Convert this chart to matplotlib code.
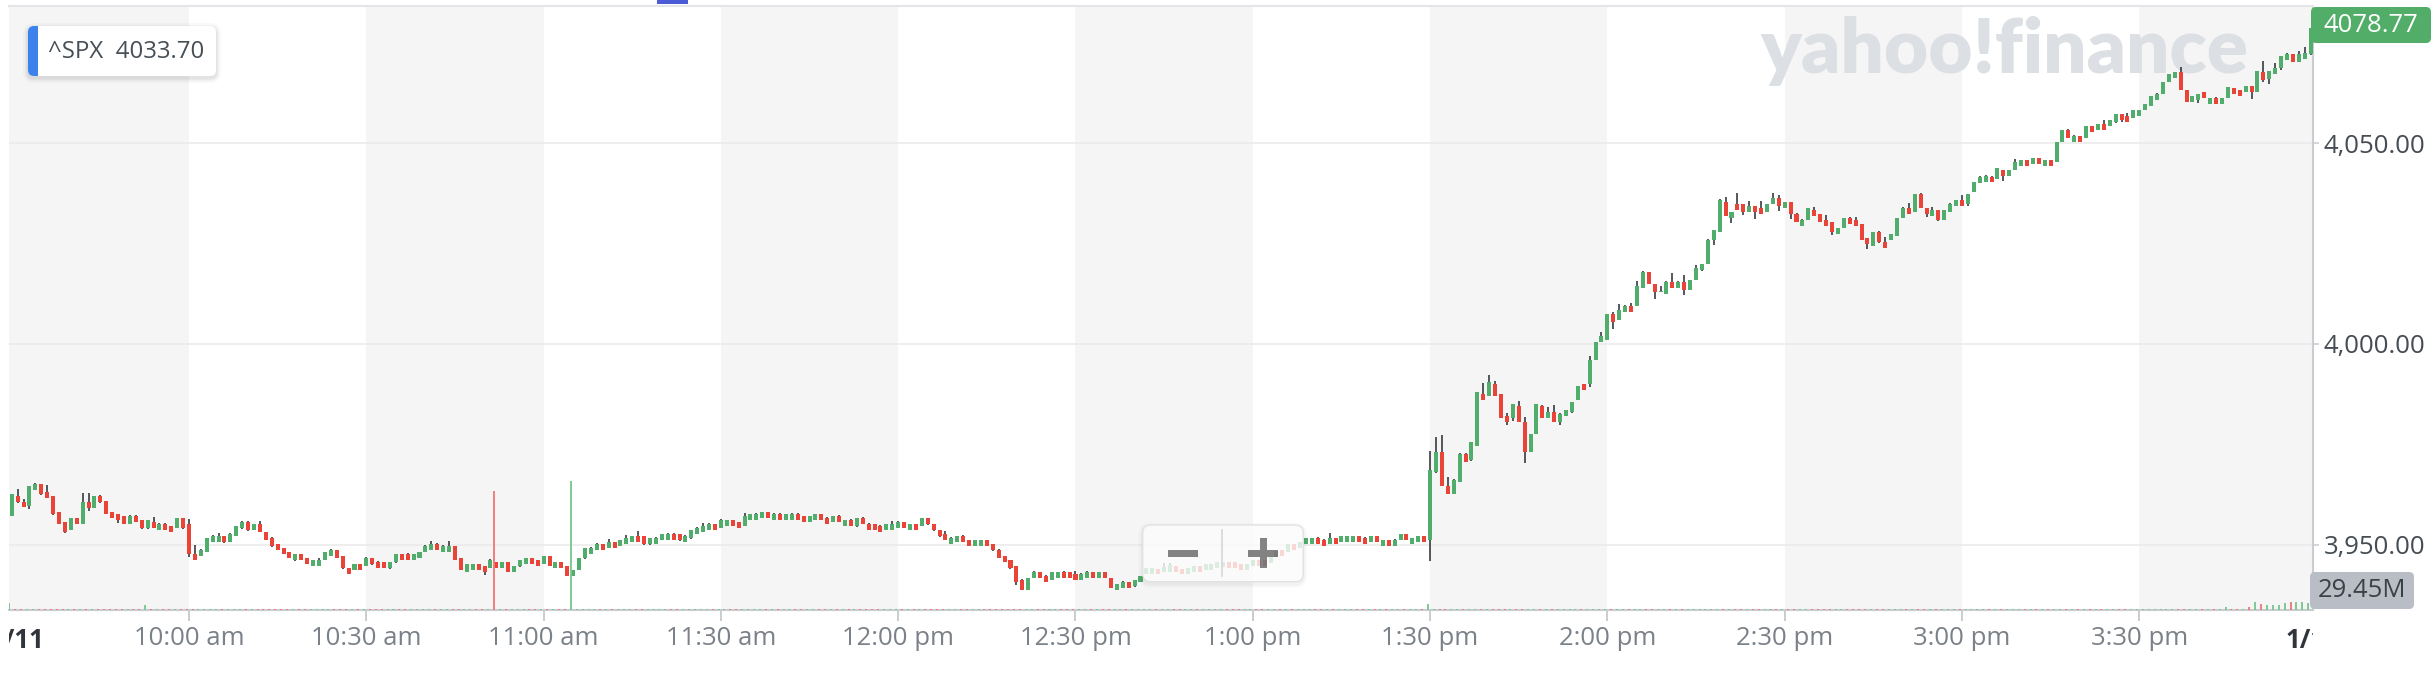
import matplotlib
matplotlib.use("Agg")
import matplotlib.pyplot as plt
from matplotlib.patches import FancyBboxPatch, Rectangle, Polygon
from matplotlib.lines import Line2D
from matplotlib.transforms import IdentityTransform, Bbox
from matplotlib.ticker import FuncFormatter
import numpy as np

# ---------------- data (1-minute candles, 9:30 = index 0) ----------------
opens = [
3957.2, 3962.1, 3960.6, 3959.7, 3963.7, 3965.1, 3963.1, 3962.1, 3958.1, 3955.6,
3953.7, 3956.6, 3955.2, 3960.6, 3959.2, 3962.1, 3961.0, 3958.1, 3957.7, 3957.1,
3955.2, 3957.1, 3956.1, 3954.2, 3955.6, 3953.7, 3955.2, 3954.7, 3954.2, 3956.6,
3955.2, 3947.7, 3947.3, 3948.3, 3950.7, 3950.7, 3952.2, 3950.7, 3952.2, 3954.2,
3955.6, 3953.7, 3955.1, 3953.2, 3951.7, 3950.2, 3949.3, 3948.2, 3946.3, 3947.7,
3946.8, 3944.8, 3944.8, 3946.3, 3947.3, 3948.7, 3947.3, 3944.3, 3943.8, 3945.3,
3944.8, 3946.8, 3945.8, 3945.8, 3944.3, 3945.8, 3947.7, 3947.7, 3946.3, 3946.8,
3948.2, 3948.7, 3950.2, 3948.2, 3948.2, 3949.7, 3946.7, 3943.3, 3943.7, 3945.2,
3944.7, 3944.2, 3945.7, 3944.2, 3945.7, 3943.2, 3944.7, 3945.2, 3946.7, 3946.2,
3945.2, 3947.2, 3944.2, 3945.7, 3944.7, 3942.2, 3943.7, 3946.7, 3947.7, 3948.7,
3950.2, 3949.2, 3950.7, 3949.7, 3950.2, 3950.7, 3952.2, 3952.2, 3950.2, 3950.2,
3951.2, 3951.2, 3952.7, 3952.7, 3950.7, 3951.7, 3952.7, 3953.2, 3953.7, 3955.1,
3954.2, 3954.7, 3956.1, 3955.6, 3954.7, 3956.1, 3956.1, 3956.6, 3958.1, 3956.1,
3957.6, 3956.1, 3956.2, 3957.6, 3957.1, 3955.6, 3956.2, 3957.6, 3956.6, 3955.6,
3957.1, 3954.7, 3956.1, 3954.7, 3956.6, 3955.1, 3955.1, 3954.7, 3953.7, 3953.7,
3954.2, 3955.6, 3953.7, 3955.1, 3954.7, 3956.6, 3955.1, 3953.7, 3952.7, 3950.2,
3950.7, 3952.2, 3951.2, 3949.8, 3949.8, 3951.2, 3950.2, 3948.7, 3947.2, 3946.2,
3944.7, 3941.2, 3938.8, 3941.7, 3943.2, 3942.2, 3941.2, 3941.7, 3943.2, 3943.2,
3942.7, 3941.2, 3941.7, 3943.2, 3941.7, 3943.2, 3941.7, 3938.8, 3939.3, 3940.7,
3939.8, 3940.8, 3942.6, 3942.8, 3943.9, 3943.2, 3943.2, 3944.6, 3944.0, 3942.8,
3943.3, 3944.6, 3943.6, 3943.8, 3944.1, 3944.4, 3945.6, 3945.6, 3945.1, 3943.8,
3944.6, 3946.1, 3946.1, 3945.4, 3946.9, 3948.8, 3948.2, 3950.1, 3949.1, 3950.2,
3950.2, 3951.7, 3951.2, 3950.2, 3951.7, 3950.7, 3950.7, 3950.7, 3952.2, 3951.7,
3950.7, 3952.2, 3949.8, 3951.2, 3949.8, 3951.2, 3952.7, 3950.2, 3950.7, 3952.2,
3951.2, 3968.1, 3973.1, 3964.6, 3962.6, 3965.6, 3972.6, 3971.1, 3974.6, 3987.5,
3987.0, 3990.0, 3987.5, 3982.1, 3981.6, 3984.6, 3980.6, 3973.1, 3977.6, 3984.6,
3981.6, 3983.1, 3980.6, 3982.0, 3983.0, 3986.0, 3990.0, 3990.0, 3995.9, 4000.4,
4000.9, 4007.4, 4005.9, 4007.9, 4009.4, 4009.4, 4013.9, 4017.9, 4014.9, 4012.9,
4012.4, 4015.4, 4013.9, 4015.4, 4013.4, 4015.9, 4018.4, 4019.9, 4025.8, 4027.8,
4035.3, 4031.3, 4034.8, 4034.8, 4032.8, 4034.3, 4033.8, 4032.8, 4034.8, 4036.3,
4033.8, 4035.3, 4032.3, 4029.3, 4030.8, 4033.3, 4032.3, 4030.8, 4030.3, 4027.3,
4028.8, 4031.3, 4030.8, 4029.8, 4026.3, 4024.3, 4027.8, 4025.3, 4025.8, 4026.8,
4031.3, 4033.8, 4032.8, 4037.3, 4033.8, 4031.8, 4033.3, 4030.8, 4032.8, 4034.3,
4035.8, 4034.8, 4037.8, 4040.0, 4040.4, 4041.7, 4041.0, 4043.3, 4041.9, 4043.3,
4044.3, 4045.8, 4044.8, 4046.3, 4044.3, 4045.8, 4045.3, 4050.2, 4053.2, 4050.2,
4051.7, 4051.2, 4054.2, 4053.2, 4054.7, 4054.2, 4055.2, 4057.2, 4056.7, 4056.2,
4056.7, 4058.2, 4059.2, 4060.7, 4062.2, 4065.2, 4066.2, 4067.7, 4063.2, 4060.2,
4060.7, 4062.7, 4059.7, 4061.2, 4059.7, 4061.2, 4063.7, 4063.2, 4062.7, 4064.2,
4062.7, 4067.7, 4065.9, 4067.2, 4068.7, 4070.7, 4072.2, 4070.2, 4070.9, 4072.2,
]

highs = [
3962.6, 3963.8, 3961.3, 3964.6, 3965.3, 3965.1, 3964.9, 3962.1, 3958.1, 3955.6,
3956.6, 3956.6, 3962.8, 3962.8, 3962.1, 3962.4, 3961.0, 3958.1, 3957.7, 3957.1,
3957.3, 3957.3, 3956.1, 3956.1, 3956.8, 3955.5, 3955.5, 3954.7, 3956.6, 3956.6,
3956.4, 3949.9, 3948.9, 3951.7, 3952.3, 3952.8, 3952.2, 3952.9, 3954.7, 3955.9,
3955.9, 3955.1, 3955.9, 3953.2, 3951.9, 3950.2, 3949.3, 3948.2, 3947.7, 3947.7,
3946.8, 3946.3, 3946.8, 3948.2, 3948.9, 3948.7, 3947.3, 3944.3, 3945.3, 3945.3,
3946.9, 3946.8, 3946.0, 3945.8, 3945.8, 3947.7, 3947.7, 3947.9, 3947.7, 3948.2,
3949.9, 3950.9, 3950.4, 3949.9, 3950.9, 3949.7, 3946.7, 3945.2, 3945.2, 3945.2,
3944.7, 3946.4, 3945.7, 3945.7, 3945.7, 3944.7, 3946.2, 3946.7, 3946.7, 3946.2,
3947.2, 3947.2, 3945.7, 3945.7, 3944.7, 3943.7, 3946.7, 3949.2, 3949.4, 3950.4,
3950.2, 3951.4, 3950.7, 3951.2, 3952.4, 3952.2, 3953.4, 3952.2, 3951.7, 3951.9,
3952.7, 3952.9, 3952.9, 3952.7, 3952.4, 3953.7, 3954.4, 3955.4, 3955.4, 3955.1,
3956.4, 3956.1, 3956.1, 3955.6, 3957.9, 3957.6, 3957.9, 3958.1, 3958.1, 3957.9,
3957.9, 3957.6, 3957.9, 3957.9, 3957.1, 3957.1, 3957.6, 3957.6, 3956.9, 3957.1,
3957.4, 3956.1, 3956.4, 3956.6, 3956.9, 3955.4, 3955.1, 3954.9, 3955.1, 3955.9,
3955.9, 3955.6, 3955.1, 3955.1, 3956.6, 3956.6, 3955.1, 3953.7, 3953.4, 3951.9,
3952.2, 3952.4, 3951.2, 3951.2, 3951.2, 3951.2, 3950.2, 3948.9, 3947.2, 3946.2,
3944.7, 3941.4, 3941.7, 3943.4, 3943.2, 3942.4, 3943.2, 3943.2, 3943.4, 3943.2,
3943.4, 3942.9, 3943.4, 3943.2, 3943.2, 3943.2, 3941.7, 3940.2, 3940.9, 3940.7,
3941.2, 3942.2, 3944.3, 3944.1, 3943.9, 3945.4, 3945.4, 3944.6, 3944.0, 3944.3,
3944.8, 3944.6, 3945.1, 3945.3, 3945.6, 3945.6, 3945.6, 3945.6, 3945.1, 3945.3,
3946.1, 3946.1, 3946.1, 3946.9, 3948.4, 3948.8, 3950.2, 3950.1, 3950.6, 3951.7,
3951.7, 3951.9, 3951.4, 3952.9, 3951.7, 3952.2, 3952.2, 3952.2, 3952.2, 3951.9,
3952.2, 3952.2, 3951.2, 3951.2, 3951.4, 3952.7, 3952.7, 3951.7, 3952.2, 3952.2,
3973.3, 3976.8, 3977.3, 3966.9, 3966.4, 3972.8, 3972.8, 3975.6, 3988.0, 3990.3,
3992.3, 3990.8, 3987.5, 3982.8, 3985.1, 3985.8, 3981.8, 3977.6, 3985.1, 3984.8,
3984.3, 3984.8, 3982.8, 3983.5, 3985.5, 3989.5, 3990.0, 3996.9, 4000.4, 4002.9,
4007.4, 4007.9, 4009.9, 4009.6, 4010.1, 4015.6, 4018.1, 4017.9, 4014.9, 4014.5,
4015.6, 4017.6, 4015.6, 4017.1, 4015.9, 4019.6, 4019.9, 4026.1, 4028.3, 4036.0,
4036.5, 4032.8, 4037.5, 4034.8, 4035.5, 4034.3, 4035.5, 4034.8, 4037.5, 4037.0,
4035.3, 4035.3, 4032.6, 4031.1, 4033.8, 4034.1, 4032.3, 4032.1, 4030.3, 4028.8,
4031.3, 4031.6, 4031.6, 4029.8, 4026.3, 4027.8, 4028.1, 4026.6, 4027.3, 4031.3,
4034.1, 4035.1, 4037.3, 4037.5, 4033.8, 4034.1, 4033.3, 4033.3, 4035.1, 4035.8,
4037.0, 4037.3, 4040.3, 4041.8, 4042.2, 4041.9, 4043.8, 4043.3, 4043.3, 4046.2,
4045.8, 4045.8, 4046.3, 4046.3, 4045.8, 4045.8, 4050.2, 4053.2, 4053.5, 4052.0,
4051.7, 4054.2, 4054.2, 4054.7, 4055.7, 4055.7, 4057.2, 4057.2, 4057.5, 4058.2,
4058.2, 4059.7, 4061.7, 4062.5, 4065.2, 4067.2, 4067.7, 4069.1, 4063.2, 4061.7,
4062.2, 4062.7, 4061.2, 4061.5, 4061.2, 4063.9, 4063.7, 4063.2, 4064.2, 4064.2,
4067.9, 4070.4, 4067.9, 4069.9, 4071.7, 4072.4, 4072.2, 4072.9, 4073.9, 4078.77,
]

lows = [
3957.2, 3960.5, 3959.3, 3959.0, 3963.7, 3962.4, 3961.7, 3957.4, 3955.2, 3953.0,
3953.7, 3955.2, 3955.2, 3958.5, 3959.2, 3960.5, 3957.7, 3956.7, 3955.5, 3955.2,
3955.2, 3955.7, 3954.0, 3954.0, 3954.2, 3953.7, 3953.7, 3953.2, 3954.2, 3954.0,
3947.0, 3946.3, 3947.3, 3948.3, 3950.7, 3950.7, 3950.5, 3950.7, 3952.2, 3954.0,
3953.5, 3953.7, 3953.2, 3951.2, 3949.5, 3948.8, 3947.8, 3946.8, 3946.0, 3946.3,
3945.3, 3944.8, 3944.8, 3946.3, 3947.3, 3946.8, 3944.0, 3942.8, 3943.8, 3943.8,
3944.8, 3945.0, 3944.3, 3944.3, 3944.0, 3945.5, 3946.3, 3946.3, 3946.3, 3946.8,
3948.2, 3948.7, 3948.7, 3948.2, 3948.2, 3946.3, 3943.7, 3943.3, 3943.7, 3943.7,
3942.4, 3944.2, 3944.2, 3944.2, 3943.2, 3943.2, 3944.5, 3945.2, 3945.2, 3944.7,
3945.2, 3944.7, 3944.2, 3944.2, 3942.2, 3942.2, 3943.7, 3946.5, 3947.7, 3948.7,
3948.7, 3949.2, 3949.2, 3949.7, 3950.2, 3950.7, 3950.7, 3949.9, 3949.9, 3950.2,
3951.2, 3951.2, 3951.2, 3950.9, 3950.7, 3951.4, 3952.7, 3953.2, 3953.7, 3953.7,
3954.2, 3954.7, 3954.7, 3954.2, 3954.7, 3956.1, 3956.1, 3956.6, 3956.6, 3956.1,
3956.1, 3956.1, 3956.2, 3956.2, 3955.6, 3955.6, 3956.2, 3956.2, 3955.2, 3955.6,
3955.6, 3954.7, 3954.7, 3954.5, 3955.2, 3953.7, 3953.7, 3953.2, 3953.7, 3953.7,
3954.2, 3954.2, 3953.7, 3953.7, 3954.7, 3955.0, 3953.5, 3952.0, 3951.2, 3950.2,
3950.7, 3950.7, 3949.8, 3949.8, 3949.8, 3949.8, 3948.5, 3946.8, 3945.8, 3944.0,
3940.0, 3938.8, 3938.8, 3941.7, 3941.7, 3940.8, 3941.2, 3941.7, 3941.7, 3941.7,
3941.2, 3941.2, 3941.7, 3941.7, 3941.7, 3941.7, 3939.3, 3938.8, 3939.3, 3939.3,
3939.5, 3940.8, 3942.6, 3942.8, 3942.8, 3943.2, 3943.2, 3943.2, 3942.8, 3942.8,
3943.3, 3943.2, 3943.6, 3943.8, 3944.1, 3944.4, 3944.1, 3944.1, 3943.6, 3943.8,
3944.6, 3944.6, 3944.6, 3945.4, 3946.9, 3947.3, 3948.2, 3948.6, 3949.1, 3950.2,
3950.2, 3950.2, 3949.8, 3950.2, 3950.2, 3950.7, 3950.7, 3950.7, 3950.7, 3950.2,
3950.7, 3950.7, 3949.8, 3949.8, 3949.8, 3951.2, 3951.2, 3950.2, 3950.7, 3950.7,
3946.0, 3967.9, 3964.6, 3962.6, 3962.6, 3965.6, 3970.6, 3970.8, 3974.6, 3986.0,
3987.0, 3987.0, 3981.6, 3979.8, 3980.8, 3980.6, 3970.3, 3973.1, 3977.6, 3981.6,
3981.6, 3980.6, 3979.8, 3982.0, 3982.7, 3986.0, 3988.5, 3989.2, 3995.9, 4000.4,
4000.9, 4003.7, 4005.9, 4007.9, 4007.9, 4009.4, 4013.9, 4014.9, 4011.1, 4012.9,
4012.4, 4013.9, 4013.9, 4012.1, 4013.4, 4015.9, 4018.1, 4019.9, 4024.6, 4027.8,
4031.8, 4030.1, 4033.3, 4032.1, 4032.8, 4031.1, 4032.3, 4032.8, 4034.8, 4033.1,
4033.8, 4031.1, 4030.3, 4029.3, 4030.8, 4031.8, 4030.3, 4029.3, 4027.1, 4027.3,
4028.8, 4029.8, 4029.3, 4025.8, 4023.6, 4024.3, 4025.1, 4023.8, 4025.8, 4026.8,
4031.3, 4032.3, 4032.8, 4033.8, 4031.6, 4031.8, 4030.6, 4030.8, 4032.8, 4034.3,
4034.5, 4034.5, 4037.8, 4040.0, 4040.4, 4040.4, 4041.0, 4040.7, 4041.9, 4043.3,
4044.3, 4044.3, 4044.8, 4044.8, 4044.3, 4044.3, 4045.3, 4050.2, 4051.2, 4050.2,
4050.2, 4051.2, 4052.7, 4053.2, 4053.2, 4054.2, 4055.0, 4055.2, 4055.2, 4056.2,
4056.7, 4058.2, 4059.2, 4060.7, 4062.2, 4065.2, 4066.2, 4063.2, 4060.2, 4060.2,
4060.0, 4061.2, 4059.7, 4059.7, 4059.7, 4061.2, 4062.2, 4061.7, 4062.7, 4061.0,
4062.7, 4065.2, 4064.7, 4067.2, 4068.2, 4070.7, 4070.2, 4070.2, 4070.9, 4072.0,
]

closes = [
3962.6, 3960.6, 3959.3, 3964.6, 3965.1, 3962.6, 3961.7, 3957.6, 3955.2, 3953.2,
3956.6, 3955.2, 3960.6, 3959.2, 3962.1, 3960.6, 3957.7, 3956.7, 3956.2, 3955.2,
3957.1, 3955.7, 3954.2, 3956.1, 3954.2, 3955.2, 3953.7, 3953.2, 3956.6, 3954.2,
3947.7, 3946.3, 3948.7, 3951.7, 3952.2, 3952.2, 3950.7, 3952.7, 3954.7, 3955.6,
3953.7, 3955.1, 3953.2, 3951.2, 3949.8, 3948.8, 3947.8, 3946.8, 3947.7, 3946.3,
3945.3, 3946.3, 3946.3, 3948.2, 3948.7, 3946.8, 3944.3, 3942.8, 3945.3, 3943.8,
3946.8, 3945.3, 3944.3, 3944.3, 3945.8, 3947.7, 3946.3, 3946.3, 3947.7, 3948.2,
3949.7, 3950.2, 3948.7, 3949.7, 3949.7, 3946.3, 3943.7, 3945.2, 3945.2, 3943.7,
3943.2, 3946.2, 3944.2, 3945.7, 3943.2, 3944.7, 3946.2, 3946.7, 3945.2, 3944.7,
3947.2, 3944.7, 3945.7, 3944.2, 3942.2, 3943.7, 3946.7, 3949.2, 3949.2, 3950.2,
3948.7, 3950.7, 3949.2, 3951.2, 3951.7, 3952.2, 3950.7, 3950.2, 3951.7, 3951.7,
3952.7, 3952.7, 3951.2, 3951.2, 3952.2, 3953.7, 3954.2, 3954.7, 3955.1, 3953.7,
3956.1, 3956.1, 3954.7, 3954.2, 3957.1, 3957.6, 3957.6, 3958.1, 3956.6, 3957.6,
3956.1, 3957.6, 3957.6, 3956.2, 3955.6, 3957.1, 3957.6, 3956.2, 3955.2, 3957.1,
3955.6, 3956.1, 3954.7, 3956.6, 3955.2, 3953.7, 3953.7, 3953.2, 3955.1, 3955.1,
3955.6, 3954.2, 3955.1, 3953.7, 3956.6, 3955.2, 3953.7, 3952.2, 3951.2, 3951.7,
3952.2, 3950.7, 3949.8, 3951.2, 3951.2, 3949.8, 3948.8, 3946.8, 3945.8, 3944.3,
3940.8, 3938.8, 3941.7, 3943.2, 3941.7, 3940.8, 3943.2, 3943.2, 3941.7, 3941.7,
3941.2, 3942.7, 3943.2, 3941.7, 3943.2, 3941.7, 3939.3, 3940.2, 3940.7, 3939.3,
3941.2, 3942.2, 3944.3, 3944.1, 3942.8, 3944.4, 3944.9, 3943.2, 3942.8, 3944.3,
3944.8, 3943.2, 3945.1, 3945.3, 3945.6, 3945.6, 3944.1, 3944.1, 3943.6, 3945.3,
3946.1, 3944.6, 3944.6, 3946.9, 3948.4, 3947.3, 3950.2, 3948.6, 3950.6, 3951.7,
3951.7, 3950.2, 3949.8, 3951.7, 3950.2, 3952.2, 3952.2, 3952.2, 3950.7, 3950.2,
3952.2, 3950.7, 3951.2, 3949.8, 3951.2, 3952.7, 3951.2, 3951.7, 3952.2, 3950.7,
3968.6, 3973.1, 3964.6, 3962.6, 3966.1, 3972.6, 3970.6, 3975.6, 3988.0, 3986.0,
3990.5, 3987.0, 3981.6, 3980.6, 3985.1, 3980.6, 3973.1, 3977.6, 3985.1, 3981.6,
3983.1, 3980.6, 3982.6, 3983.5, 3985.5, 3989.5, 3988.5, 3995.9, 4000.4, 4001.9,
4007.4, 4005.4, 4008.4, 4009.4, 4007.9, 4014.4, 4017.9, 4014.9, 4012.9, 4013.0,
4015.4, 4013.9, 4015.4, 4013.4, 4015.9, 4018.9, 4019.9, 4025.8, 4028.3, 4035.8,
4031.8, 4032.8, 4033.3, 4032.8, 4034.3, 4032.8, 4032.3, 4034.8, 4036.3, 4034.3,
4035.3, 4032.3, 4030.3, 4030.8, 4033.8, 4031.8, 4030.3, 4029.3, 4027.8, 4028.8,
4031.3, 4029.8, 4029.3, 4025.8, 4024.8, 4027.8, 4025.3, 4023.8, 4027.3, 4031.3,
4033.8, 4032.3, 4037.3, 4033.8, 4032.3, 4033.3, 4030.8, 4033.3, 4034.8, 4035.8,
4034.5, 4037.3, 4040.3, 4041.5, 4041.9, 4040.4, 4043.8, 4041.9, 4043.3, 4045.3,
4045.8, 4044.3, 4046.3, 4044.8, 4045.8, 4044.3, 4050.2, 4053.2, 4051.2, 4051.7,
4050.2, 4054.2, 4052.7, 4054.7, 4053.2, 4055.7, 4057.2, 4055.7, 4055.2, 4058.2,
4058.2, 4059.7, 4061.7, 4062.2, 4065.2, 4067.2, 4067.7, 4063.2, 4060.2, 4061.7,
4062.2, 4061.2, 4061.2, 4059.7, 4061.2, 4063.9, 4062.2, 4061.7, 4064.2, 4062.7,
4067.9, 4065.7, 4067.9, 4068.7, 4071.7, 4072.2, 4070.2, 4072.2, 4072.4, 4078.77,
]

# volume in millions
volumes = [
28, 4, 4, 4, 4, 4, 4, 4, 4, 4, 4, 4, 4, 4, 4, 4, 4, 4, 4, 4, 4, 4, 4, 21, 4, 4, 4, 4, 4, 4,
4, 4, 4, 4, 4, 4, 4, 4, 4, 4, 4, 4, 4, 4, 4, 4, 4, 4, 4, 4, 4, 4, 4, 4, 4, 4, 4, 4, 4, 4,
4, 4, 4, 4, 4, 4, 4, 4, 4, 4, 4, 4, 4, 4, 4, 4, 4, 4, 4, 4, 4, 4, 500, 4, 4, 4, 4, 4, 4, 4,
4, 4, 4, 4, 4, 540, 4, 4, 4, 4, 4, 4, 4, 4, 4, 4, 4, 4, 4, 4, 4, 4, 4, 4, 4, 4, 4, 4, 4, 4,
4, 4, 4, 4, 4, 4, 4, 4, 4, 4, 4, 4, 4, 4, 4, 4, 4, 4, 4, 4, 4, 4, 4, 4, 4, 4, 4, 4, 4, 4,
4, 4, 4, 4, 4, 4, 4, 4, 4, 4, 4, 4, 4, 4, 4, 4, 4, 4, 4, 4, 4, 4, 4, 4, 4, 4, 4, 4, 4, 4,
4, 4, 4, 4, 4, 4, 4, 4, 4, 4, 4, 4, 4, 4, 4, 4, 4, 4, 4, 4, 4, 4, 4, 4, 4, 4, 4, 4, 4, 4,
4, 4, 4, 4, 4, 4, 4, 4, 4, 4, 4, 4, 4, 4, 4, 4, 4, 4, 4, 4, 4, 4, 4, 4, 4, 4, 4, 4, 4, 4,
25, 4, 4, 4, 4, 4, 4, 4, 4, 4, 4, 4, 4, 4, 4, 4, 4, 4, 4, 4, 4, 4, 4, 4, 4, 4, 4, 4, 4, 4,
4, 4, 4, 4, 4, 4, 4, 4, 4, 4, 4, 4, 4, 4, 4, 4, 4, 4, 4, 4, 4, 4, 4, 4, 4, 4, 4, 4, 4, 4,
4, 4, 4, 4, 4, 4, 4, 4, 4, 4, 4, 4, 4, 4, 4, 4, 4, 4, 4, 4, 4, 4, 4, 4, 4, 4, 4, 4, 4, 4,
4, 4, 4, 4, 4, 4, 4, 4, 4, 4, 4, 4, 4, 4, 4, 4, 4, 4, 4, 4, 4, 4, 4, 4, 4, 4, 4, 4, 4, 4,
4, 4, 4, 4, 4, 4, 4, 4, 4, 4, 4, 4, 4, 4, 4, 12, 4, 4, 4, 11, 32, 22, 21, 21, 21, 29, 32, 32, 32, 29.45,
]

time_ticks = [30, 60, 90, 120, 150, 180, 210, 240, 270, 300, 330, 360]
time_labels = ["10:00 am", "10:30 am", "11:00 am", "11:30 am", "12:00 pm", "12:30 pm",
               "1:00 pm", "1:30 pm", "2:00 pm", "2:30 pm", "3:00 pm", "3:30 pm"]
date_labels = ["1/11", "1/12"]
price_ticks = [3950, 4000, 4050]
symbol = "^SPX"
hover_price = "4033.70"
last_price = 4078.77
last_volume = "29.45M"

# ---------------- styling ----------------
plt.rcParams['font.family'] = ['Open Sans', 'DejaVu Sans']
GREEN = '#50ad6c'
RED = '#ea4337'
WICK = '#262b31'
VGREEN = '#7cc795'
VRED = '#ee7b7b'
GRAYTXT = '#7b8188'
AXCOL = '#c9cdd2'

W, H, DPI = 2436, 680, 100
fig = plt.figure(figsize=(W / DPI, H / DPI), dpi=DPI)
fig.patch.set_facecolor('white')
ID = IdentityTransform()

AX_L, AX_R, AX_T, AX_B = 9, 2312.5, 6, 609.5
ax = fig.add_axes([AX_L / W, 1 - AX_B / H, (AX_R - AX_L) / W, (AX_B - AX_T) / H])
ax.set_xlim(-0.46, 389.31)
ax.set_ylim(3933.86, 4084.2)
ax.set_facecolor('white')

n = len(closes)
x = np.arange(n)
o = np.array(opens); c = np.array(closes); hi = np.array(highs); lo = np.array(lows)

# alternating 30-min bands
for k in range(7):
    ax.axvspan(60 * k if k else -1, 60 * k + 30, color='#f5f5f5', lw=0, zorder=0.1)

ax.set_axisbelow(True)
ax.grid(axis='y', color='#ebebeb', lw=1.2)
ax.grid(axis='x', visible=False)

up = c >= o
colors = np.where(up, GREEN, RED)
bottoms = np.minimum(o, c)
heights = np.maximum(np.abs(c - o), 0.25)
ax.vlines(x, lo, hi, colors=WICK, lw=1.1, zorder=2)
ax.bar(x, heights, bottom=bottoms, width=0.68, color=colors, lw=0, zorder=3)

# watermark (behind candles)
wm = ax.text(1760, H - 73, "yahoo!finance", transform=ID, ha='left', va='baseline',
             fontsize=56, fontweight='heavy', family=['Lato', 'DejaVu Sans'],
             color='#dcdfe3', zorder=0.7)

# volume overlay (twin axes)
ax2 = ax.twinx()
ax2.set_ylim(0, 2540)
ax2.set_xlim(ax.get_xlim())
vcol = np.where(up, VGREEN, VRED)
ax2.bar(x - 0.4, volumes, width=0.34, color=vcol, lw=0, alpha=0.95)
ax2.axis('off')

# axes styling (after twinx, which resets tick side)
ax.spines['left'].set_visible(False)
ax.spines['top'].set_color('#e3e5e9'); ax.spines['top'].set_linewidth(1.5)
ax.spines['bottom'].set_color(AXCOL); ax.spines['bottom'].set_linewidth(1.5)
ax.spines['right'].set_color(AXCOL); ax.spines['right'].set_linewidth(1.5)

ax.set_xticks(time_ticks)
ax.set_xticklabels(time_labels)
ax.tick_params(axis='x', length=8, width=1.4, color=AXCOL, labelsize=18.5,
               labelcolor=GRAYTXT, pad=4)
ax.yaxis.tick_right()
ax.yaxis.set_label_position('right')
ax.set_yticks(price_ticks)
ax.yaxis.set_major_formatter(FuncFormatter(lambda v, p: f"{v:,.2f}"))
ax.tick_params(axis='y', which='both', left=False, labelleft=False, right=True, labelright=True,
               length=4.3, width=1.2, color=AXCOL, labelsize=18.5,
               labelcolor='#464c53', pad=3.6)

# date labels, clipped at the plot edges
clipbb = Bbox.from_extents(AX_L, 0, AX_R, H)
t1 = fig.text(44, H - 640, date_labels[0], transform=ID, ha='right', va='center',
              fontsize=18.5, fontweight='bold', color='#30353b')
t2 = fig.text(2286, H - 640, date_labels[1], transform=ID, ha='left', va='center',
              fontsize=18.5, fontweight='bold', color='#30353b')
for t in (t1, t2):
    t.set_clip_box(clipbb); t.set_clip_on(True)

def pbox(x0, y0, x1, y1, r, **kw):
    return FancyBboxPatch((x0, H - y1), x1 - x0, y1 - y0,
                          boxstyle=f"round,pad=0,rounding_size={r}", transform=ID, **kw)

# top decoration
fig.add_artist(Rectangle((657, H - 4), 31, 4, transform=ID, color='#4b5bd6', lw=0))

# legend box
for d, a in ((5, 0.025), (3, 0.035), (1.5, 0.05)):
    fig.add_artist(pbox(28 - d, 26 - d + 2, 216 + d, 76 + d + 2, 6 + d, facecolor='black',
                        edgecolor='none', alpha=a))
lb = pbox(28, 26, 216, 76, 6, facecolor='white', edgecolor='none')
fig.add_artist(lb)
strip = Rectangle((28, H - 76), 9.7, 50, transform=ID, color='#3b82ec', lw=0)
fig.add_artist(strip)
strip.set_clip_path(lb)
fig.text(48, H - 51.5, f"{symbol}  {hover_price}", transform=ID, ha='left', va='center',
         fontsize=17.3, color='#464e56')

# last price badge
fig.add_artist(pbox(2311, 7, 2431, 43, 5, facecolor='#52ad68', edgecolor='none'))
fig.text(2371, H - 25, f"{last_price:.2f}", transform=ID, ha='center', va='center',
         fontsize=18.5, color='white')

# volume badge
fig.add_artist(pbox(2310, 572, 2414, 609, 5, facecolor='#b9bdc5', edgecolor='none'))
fig.text(2362, H - 590.5, last_volume, transform=ID, ha='center', va='center',
         fontsize=18.5, color='#3c4147')

# zoom control box
for d, a in ((4, 0.02), (2, 0.03)):
    fig.add_artist(pbox(1142.7 - d, 525 - d + 2, 1303.3 + d, 581.7 + d + 2, 8 + d,
                        facecolor='black', edgecolor='none', alpha=a))
fig.add_artist(pbox(1142.7, 525, 1303.3, 581.7, 8, facecolor=(1, 1, 1, 0.8),
                    edgecolor='#e2e2e2', lw=1))
fig.add_artist(Rectangle((1167.7, H - 556.7), 30, 6.7, transform=ID, color='#333333',
                         alpha=0.6, lw=0))
fig.add_artist(Line2D([1221.7, 1221.7], [H - 530, H - 576], transform=ID, color='#d6d6d6', lw=1.2))
cx, cy, arm, th = 1263.3, H - 553.3, 15, 3.35
cross = [(cx - arm, cy - th), (cx - th, cy - th), (cx - th, cy - arm), (cx + th, cy - arm),
         (cx + th, cy - th), (cx + arm, cy - th), (cx + arm, cy + th), (cx + th, cy + th),
         (cx + th, cy + arm), (cx - th, cy + arm), (cx - th, cy + th), (cx - arm, cy + th)]
fig.add_artist(Polygon(cross, closed=True, transform=ID, color='#333333', alpha=0.6, lw=0))

# fit watermark width
fig.canvas.draw()
bb = wm.get_window_extent()
wm.set_fontsize(56 * 488 / bb.width)

fig.savefig("out.png", dpi=DPI, facecolor='white')
